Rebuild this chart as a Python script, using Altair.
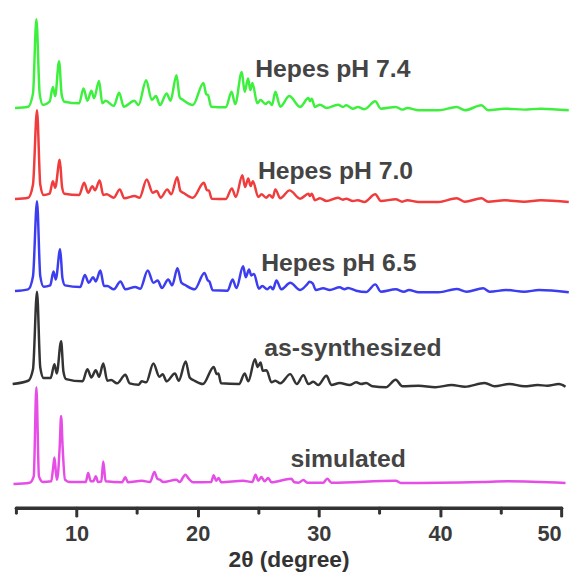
import altair as alt
import pandas as pd

# ---------------- data ----------------
series_names = ["Hepes pH 7.4", "Hepes pH 7.0", "Hepes pH 6.5", "as-synthesized", "simulated"]
series_colors = ["#3ef03e", "#f03c3c", "#3c3cf0", "#333333", "#e64ce6"]
series_offsets = [404, 312, 219, 124, 25]          # vertical stacking offsets (a.u.)

green_x = [4.92, 6.01, 6.41, 6.69, 6.96, 7.23, 7.78, 8.05, 8.24, 8.56, 8.78, 9.0, 10.22, 10.58, 10.9, 11.23,
           11.45, 11.86, 12.13, 12.4, 13.08, 13.52, 13.9, 14.77, 15.12, 15.75, 16.21, 16.56, 16.89, 17.44,
           17.76, 18.25, 18.52, 18.8, 19.61, 20.48, 20.7, 20.86, 21.11, 22.33, 22.8, 23.1, 23.64, 23.88,
           24.16, 24.35, 24.52, 24.92, 25.19, 25.6, 25.87, 26.14, 26.41, 26.82, 27.56, 28.46, 29.14, 29.27,
           29.41, 29.68, 30.09, 30.63, 31.58, 31.99, 32.26, 32.81, 33.22, 33.76, 34.66, 35.12, 36.35, 36.89,
           37.3, 38.25, 39.88, 41.38, 42.06, 43.42, 43.97, 45.33, 46.96, 48.32, 50.63]
green_y = [0, 1.3, 14.7, 89.7, 14.7, 3, 6.3, 21.3, 12, 47.3, 13, 6.3, 4.7, 19.7, 7.3, 17.3,
           9.7, 27.3, 4.7, 7.3, 2, 15.3, 1.3, 7.3, 3, 28, 8, 12, 3, 14.7,
           7.3, 33, 10.7, 8, 3, 25.3, 14, 13, 1.3, 0.7, 16.3, 4, 36.3, 16.3,
           29.7, 18, 25.3, 4.7, 8, 4, 6.3, 3, 16.3, 1.3, 12, 1, 10, 6.7,
           9.3, 1, 3.3, 0, 3.3, 1, 2.7, -0.7, 1, -1.3, 6.7, -0.7, 1, -1.7,
           0, -2.3, -2.3, 1, -2.3, 2.7, -2.3, -0.7, -1.7, -0.7, -2.3]

red_x = [4.92, 6.01, 6.41, 6.74, 7.01, 7.29, 7.78, 8.05, 8.24, 8.62, 8.81, 9.0, 10.22, 10.63, 10.96, 11.31,
         11.53, 11.91, 12.21, 12.48, 13.08, 13.57, 13.95, 14.8, 15.2, 15.8, 16.29, 16.62, 16.95, 17.49,
         17.82, 18.31, 18.58, 18.85, 19.61, 20.51, 20.78, 20.92, 21.16, 22.33, 22.82, 23.15, 23.69, 23.91,
         24.18, 24.37, 24.56, 25.0, 25.27, 25.65, 25.93, 26.2, 26.41, 26.82, 27.59, 28.46, 29.14, 29.27,
         29.41, 29.68, 30.09, 30.63, 31.58, 31.99, 32.26, 32.81, 33.22, 33.76, 34.66, 35.12, 36.35, 36.89,
         37.3, 38.25, 39.88, 41.38, 42.06, 43.42, 43.97, 45.33, 46.96, 48.32, 50.63]
red_y = [0, 1.3, 14.7, 89.7, 14.7, 4, 5.3, 18, 11.3, 39.7, 12, 5.3, 4, 16.3, 6.3, 13,
         8.7, 18.7, 4, 4.7, 1.3, 9.7, 0.7, 3, 1.3, 19.7, 6.3, 8, 1.3, 9.7,
         4.7, 22, 8, 6, 1.3, 16.3, 8.7, 8.7, 0.3, 0, 10.7, 2, 24, 12,
         20.7, 13, 18, 2, 4.7, 1.3, 4, 1.3, 9.7, 0.7, 8.7, 0.3, 5.3, 3,
         5.3, -1.3, 0.7, -2, 1.3, -0.7, 0.3, -2, -1.3, -3, 4.7, -2, -0.3, -2.7,
         -1.3, -3, -3, 0.7, -2.7, 0.7, -2.7, -1.3, -2.7, -1.3, -3]

blue_x = [4.92, 6.01, 6.41, 6.74, 7.01, 7.29, 7.83, 8.1, 8.29, 8.65, 8.84, 9.05, 10.31, 10.69, 11.01, 11.37,
          11.59, 11.97, 12.27, 12.54, 13.08, 13.63, 14.03, 14.85, 15.26, 15.88, 16.35, 16.7, 17.05, 17.57,
          17.9, 18.33, 18.66, 18.93, 19.75, 20.56, 20.84, 20.97, 21.24, 22.47, 22.88, 23.2, 23.75, 23.97,
          24.24, 24.43, 24.65, 25.05, 25.33, 25.74, 26.01, 26.22, 26.5, 26.9, 27.64, 28.46, 29.05, 29.22,
          29.49, 29.76, 30.36, 30.9, 31.72, 32.13, 32.4, 33.08, 33.9, 34.66, 35.12, 36.35, 37.03, 37.43,
          38.25, 39.88, 41.38, 42.2, 43.56, 44.1, 45.46, 46.96, 48.18, 50.63]
blue_y = [0, 1.7, 15, 90.7, 15, 4.3, 5.7, 19.7, 11.7, 42.3, 13, 5.7, 4, 16.3, 8.3, 14,
          9.7, 20.7, 5, 5, 1.7, 9.7, 1.7, 4, 2.3, 20.7, 8.3, 10.7, 3, 11.7,
          5.7, 23, 8.3, 6.3, 1.7, 18.3, 10.7, 9.7, 0.7, 0.3, 11.7, 3, 25, 14,
          21.7, 15.7, 17.3, 2.3, 5, 1.7, 4.3, 1.7, 10.7, 1.7, 8.3, 1, 7, 9.3,
          7.7, 1, 2.7, 1, 3.7, 1.7, 3, 0.3, -1, 6.7, -0.7, 1.7, -0.7, 1,
          -1.3, -1.3, 2, -0.7, 2.7, -0.7, 1, -0.7, 1, -1.3]

black_x = [4.73, 6.01, 6.41, 6.74, 7.01, 7.29, 7.86, 8.18, 8.37, 8.73, 8.92, 9.14, 10.5, 10.9, 11.23, 11.59,
           11.86, 12.21, 12.54, 12.86, 13.35, 14.03, 14.39, 15.12, 15.39, 15.75, 16.35, 16.84, 17.11, 17.44,
           18.12, 18.44, 19.01, 19.34, 19.75, 20.43, 21.33, 21.57, 21.71, 21.93, 23.42, 23.88, 24.18, 24.73,
           24.95, 25.19, 25.38, 25.68, 26.09, 26.41, 26.82, 27.64, 28.18, 28.73, 29.14, 29.54, 29.95, 30.63,
           31.04, 31.72, 32.54, 33.08, 33.49, 33.9, 34.44, 35.53, 36.35, 36.89, 38.25, 39.61, 40.97, 42.06,
           43.69, 44.51, 45.73, 46.96, 48.05, 48.86, 49.81, 50.36]
black_y = [1, 4.3, 16, 94.3, 17.7, 7, 7, 21, 11.7, 44.3, 13.7, 6, 3.7, 16, 7.7, 15,
           8.3, 21.7, 4.3, 5, 1.7, 10.3, 1.7, 0.3, 3.7, 2.7, 21.7, 8.3, 11, 3.7,
           11.7, 4.3, 23.7, 7.7, 4.3, 1, 18.3, 11, 11.7, 1.7, 1, 11.7, 3.7, 26,
           18.3, 22.7, 14.3, 15, 2.7, 4.3, 1.7, 11, 1, 10, 1, 3.3, 0, 9.3,
           0, 2, 0, 2.7, 1, 2, -1.3, -2.3, 5.3, -1.3, -0.7, -2.3, 0, -1.7,
           2, -1.3, 1, -1.3, 0, -0.7, 1, -1.7]

magenta_x = [4.8, 6.14, 6.47, 6.69, 6.9, 7.23, 7.91, 8.07, 8.18, 8.32, 8.4, 8.62, 8.73, 8.86, 9.05, 9.41,
             10.77, 10.96, 11.18, 11.39, 11.59, 11.78, 12.05, 12.21, 12.4, 13.76, 14.03, 14.25, 15.39, 16.07,
             16.43, 16.67, 16.89, 17.16, 18.25, 18.52, 18.85, 18.99, 19.26, 19.61, 21.11, 21.33, 21.52, 21.73,
             21.95, 23.75, 24.51, 24.78, 25.0, 25.27, 25.52, 25.82, 26.09, 27.72, 27.99, 28.32, 28.73, 29.05,
             30.36, 30.69, 31.04, 36.35, 36.76, 43.42, 45.6, 50.36]
magenta_y = [-1, 0.3, 6.7, 96.7, 6.7, 1, 1.7, 15, 25.7, 8.3, 3.3, 38.3, 67.7, 35, 3.3, 1,
             1, 10, 1.7, 1.7, 6.7, 1, 1.7, 21.7, 1.7, 0.7, 5.7, 0.7, 2.3, 1,
             11, 4.3, 3.3, 1, 3.3, 1, 6.7, 8.3, 4.3, 0.7, 1, 7.7, 2.3, 5,
             0.7, 2.3, 1, 8.3, 2.3, 6, 1.7, 5, 0.7, 4.3, 0.7, 0.3, 3, 0.3,
             0.3, 4.3, 0.3, 2.3, 0, 1, 1.7, 0]

label_x = [24.75, 24.97, 25.24, 25.5, 27.66]
label_y = [435, 332, 239, 153, 41]

major_ticks = [10, 20, 30, 40, 50]
minor_ticks = [5, 15, 25, 35, 45]

# ---------------- build tables ----------------
all_x = [green_x, red_x, blue_x, black_x, magenta_x]
all_y = [green_y, red_y, blue_y, black_y, magenta_y]
rows = []
for name, off, xs, ys in zip(series_names, series_offsets, all_x, all_y):
    for xv, yv in zip(xs, ys):
        rows.append({"series": name, "theta": xv, "y": yv + off})
df = pd.DataFrame(rows)
labels = pd.DataFrame({"label": series_names, "theta": label_x, "y": label_y})

FONT = "Liberation Sans"
xscale = alt.Scale(domain=[5, 50], nice=False, zero=False)
yscale = alt.Scale(domain=[0, 502], nice=False, zero=False)

lines = alt.Chart(df).mark_line(interpolate="monotone", strokeJoin="round").encode(
    x=alt.X("theta:Q", scale=xscale,
            axis=alt.Axis(values=major_ticks, orient="bottom", title="2θ (degree)", grid=False,
                          format="d", labelFont=FONT, labelFontSize=22, labelFontWeight="bold",
                          labelColor="#3a3a3a", labelPadding=8, domainColor="#333333",
                          domainWidth=3.5, domainCap="round", tickColor="#333333", tickWidth=3,
                          tickSize=8, tickCap="round", titleFont=FONT, titleFontSize=23,
                          titleFontWeight="bold", titleColor="#333333", titlePadding=4)),
    y=alt.Y("y:Q", scale=yscale, axis=None),
    color=alt.Color("series:N", scale=alt.Scale(domain=series_names, range=series_colors), legend=None),
    strokeWidth=alt.StrokeWidth("series:N", scale=alt.Scale(domain=series_names, range=[2.5, 2.5, 2.5, 1.6, 1.9]),
                                legend=None),
    detail="series:N",
)

texts = alt.Chart(labels).mark_text(align="left", baseline="alphabetic", font=FONT, fontSize=25,
                                    fontWeight="bold", color="#444444").encode(
    x=alt.X("theta:Q", scale=xscale,
            axis=alt.Axis(values=minor_ticks, orient="bottom", title=None, labels=False, domain=False,
                          grid=False, tickColor="#333333", tickWidth=3, tickSize=5, tickCap="round")),
    y=alt.Y("y:Q", scale=yscale, axis=None),
    text="label:N",
)

chart = alt.layer(lines, texts).resolve_axis(x="independent").properties(
    width=551, height=502,
    autosize=alt.AutoSizeParams(type="none"),
    padding={"left": 8, "top": 0, "right": 14, "bottom": 66},
).configure_view(stroke=None)

chart.save("out.html", embed_options={"renderer": "svg", "actions": False})
